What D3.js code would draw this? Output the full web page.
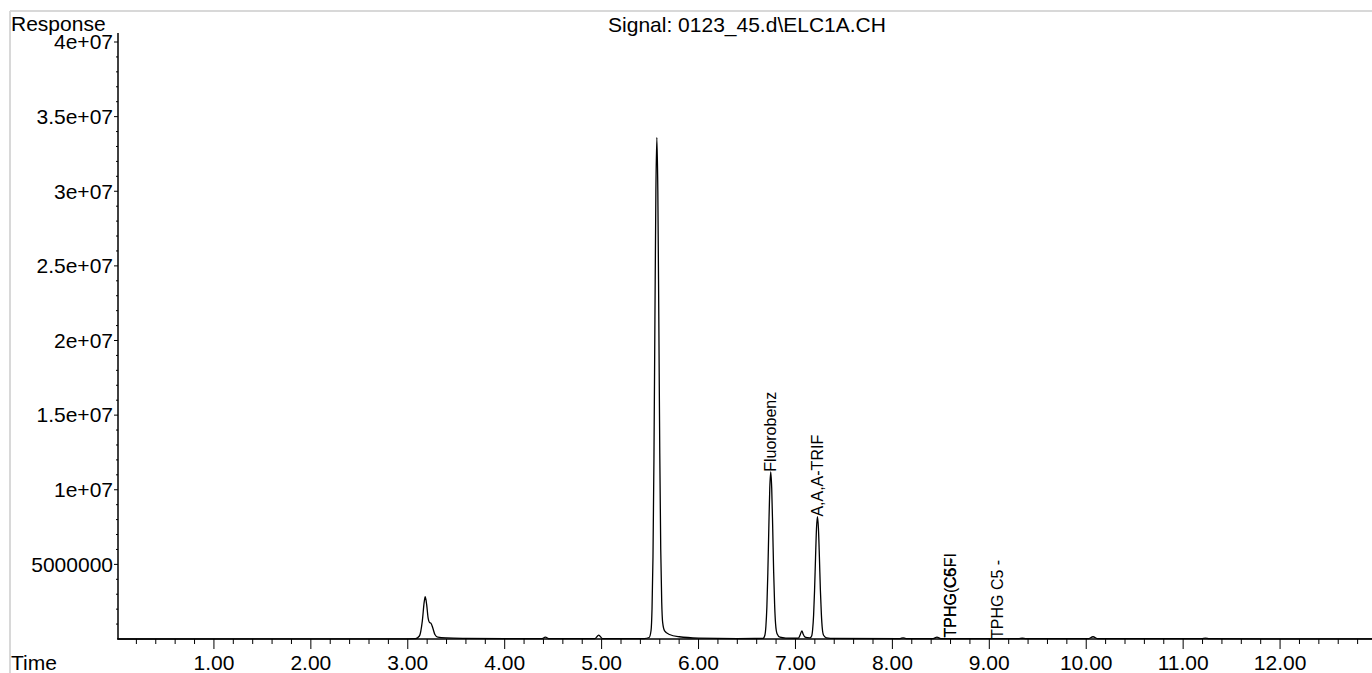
<!DOCTYPE html>
<html><head><meta charset="utf-8">
<script src="https://cdn.jsdelivr.net/npm/d3@7"></script>
<style>
html,body{margin:0;padding:0;background:#fff;}
svg{display:block;font-family:"Liberation Sans",Arial,sans-serif;}
</style></head>
<body>
<svg id="chart" width="1372" height="673"></svg>
<script>
// ---- data ----
const titleText = "Signal: 0123_45.d\\ELC1A.CH";
const yAxisTitle = "Response";
const xAxisTitle = "Time";
const xMajorTicks = [1,2,3,4,5,6,7,8,9,10,11,12];
const xTickLabels = ["1.00","2.00","3.00","4.00","5.00","6.00","7.00","8.00","9.00","10.00","11.00","12.00"];
const yMajorTicks = [5e6,1e7,1.5e7,2e7,2.5e7,3e7,3.5e7,4e7];
const yTickLabels = ["5000000","1e+07","1.5e+07","2e+07","2.5e+07","3e+07","3.5e+07","4e+07"];
const traceTime = [
 0.00,2.90,3.08,3.12,3.15,3.17,3.18,3.195,3.21,3.225,3.24,3.26,3.28,3.31,3.40,3.60,4.00,
 4.38,4.42,4.46,4.93,4.97,5.01,5.44,
 5.49,5.51,5.52,5.53,5.54,5.55,5.56,5.57,5.58,5.59,5.60,5.61,5.62,5.63,5.65,5.70,5.80,6.00,6.40,
 6.665,6.685,6.695,6.705,6.715,6.725,6.735,6.745,6.755,6.765,6.775,6.785,6.795,6.81,6.84,6.90,7.00,
 7.03,7.05,7.066,7.08,7.10,7.12,
 7.15,7.167,7.177,7.187,7.197,7.207,7.217,7.227,7.237,7.247,7.257,7.267,7.277,7.29,7.32,7.40,
 8.08,8.11,8.14,8.42,8.46,8.50,9.30,9.34,9.38,10.02,10.07,10.12,11.19,11.23,11.27,12.95
];
const traceResponse = [
 0,0.01e6,0.03e6,0.2e6,1.2e6,2.5e6,2.83e6,2.3e6,1.4e6,1.1e6,1.05e6,0.7e6,0.3e6,0.12e6,0.07e6,0.04e6,0.02e6,
 0.02e6,0.12e6,0.02e6,0.02e6,0.26e6,0.02e6,0.03e6,
 0.1e6,0.57e6,2.0e6,5.5e6,12.1e6,21.4e6,30.0e6,33.6e6,30.0e6,21.6e6,12.5e6,6.0e6,2.5e6,1.1e6,0.55e6,0.3e6,0.15e6,0.06e6,0.03e6,
 0.04e6,0.27e6,0.85e6,2.14e6,4.42e6,7.41e6,10.1e6,11.2e6,10.1e6,7.5e6,4.5e6,2.3e6,1.0e6,0.35e6,0.12e6,0.06e6,0.05e6,
 0.06e6,0.3e6,0.55e6,0.32e6,0.12e6,0.09e6,
 0.08e6,0.2e6,0.62e6,1.57e6,3.24e6,5.43e6,7.4e6,8.2e6,7.4e6,5.5e6,3.3e6,1.7e6,0.7e6,0.25e6,0.08e6,0.04e6,
 0.03e6,0.08e6,0.03e6,0.03e6,0.12e6,0.03e6,0.02e6,0.05e6,0.02e6,0.02e6,0.15e6,0.02e6,0.02e6,0.06e6,0.02e6,0.01e6
];
const peakLabels = ["Fluorobenz","A,A,A-TRIF","TPHG C6 -","TPHG(C5FI","TPHG C5 -"];
const peakLabelTime = [6.745,7.227,8.60,8.60,9.08];
const peakLabelResponse = [11.2e6,8.2e6,0.1e6,0.1e6,0.0];

// ---- layout ----
const svg = d3.select("#chart");
const W = 1372, H = 673;
const x = d3.scaleLinear().domain([0, 13]).range([117, 1377]);
const y = d3.scaleLinear().domain([0, 4e7]).range([639, 42]);
const axisLeftX = 118, axisBottomY = 639;

// light frame
svg.append("line").attr("x1",10).attr("x2",W).attr("y1",11).attr("y2",11).attr("stroke","#d8d8d8").attr("stroke-width",2);
svg.append("line").attr("x1",10).attr("x2",10).attr("y1",11).attr("y2",H).attr("stroke","#d8d8d8").attr("stroke-width",2);

// titles
svg.append("text").attr("x",747).attr("y",32).attr("text-anchor","middle").attr("font-size",21).text(titleText);
svg.append("text").attr("x",11).attr("y",31).attr("font-size",21).text(yAxisTitle);
svg.append("text").attr("x",11).attr("y",670).attr("font-size",21).text(xAxisTitle);

// x axis
const xMinor = d3.range(1, 65).map(i => i*0.2).filter(v => Math.abs(v - Math.round(v)) > 1e-6);
const gx = svg.append("g");
gx.append("line").attr("x1",axisLeftX).attr("x2",W).attr("y1",axisBottomY).attr("y2",axisBottomY).attr("stroke","#000").attr("stroke-width",1.5);
gx.selectAll("line.minor").data(xMinor).enter().append("line").attr("class","minor")
  .attr("x1",d=>x(d)).attr("x2",d=>x(d)).attr("y1",axisBottomY).attr("y2",axisBottomY+5).attr("stroke","#000").attr("stroke-width",1);
gx.selectAll("line.major").data(xMajorTicks).enter().append("line").attr("class","major")
  .attr("x1",d=>x(d)).attr("x2",d=>x(d)).attr("y1",axisBottomY).attr("y2",axisBottomY+10).attr("stroke","#000").attr("stroke-width",1);
gx.selectAll("text").data(xMajorTicks).enter().append("text")
  .attr("x",d=>x(d)).attr("y",670).attr("text-anchor","middle").attr("font-size",21).text((d,i)=>xTickLabels[i]);

// y axis
const yMinor = d3.range(1, 41).map(i => i*1e6).filter(v => v % 5e6 !== 0);
const gy = svg.append("g");
gy.append("line").attr("x1",axisLeftX).attr("x2",axisLeftX).attr("y1",33).attr("y2",axisBottomY).attr("stroke","#000").attr("stroke-width",1.5);
gy.selectAll("line.minor").data(yMinor).enter().append("line").attr("class","minor")
  .attr("x1",axisLeftX-2).attr("x2",axisLeftX).attr("y1",d=>y(d)).attr("y2",d=>y(d)).attr("stroke","#000").attr("stroke-width",1);
gy.selectAll("line.major").data(yMajorTicks).enter().append("line").attr("class","major")
  .attr("x1",axisLeftX-4).attr("x2",axisLeftX).attr("y1",d=>y(d)).attr("y2",d=>y(d)).attr("stroke","#000").attr("stroke-width",1);
gy.selectAll("text").data(yMajorTicks).enter().append("text")
  .attr("x",113).attr("y",d=>y(d)).attr("dy","0.35em").attr("text-anchor","end").attr("font-size",21).text((d,i)=>yTickLabels[i]);

// trace
const pts = traceTime.map((t,i)=>[t, traceResponse[i]]);
const line = d3.line().x(d=>x(d[0])).y(d=>y(d[1])).curve(d3.curveMonotoneX);
svg.append("path").datum(pts).attr("d",line).attr("fill","none").attr("stroke","#000").attr("stroke-width",1.3);

// peak labels
svg.selectAll("text.peak").data(peakLabels).enter().append("text").attr("class","peak")
  .attr("transform",(d,i)=>`translate(${x(peakLabelTime[i])+5.5},${y(peakLabelResponse[i])}) rotate(-90)`)
  .attr("font-size",16).text(d=>d);
</script>
</body></html>
